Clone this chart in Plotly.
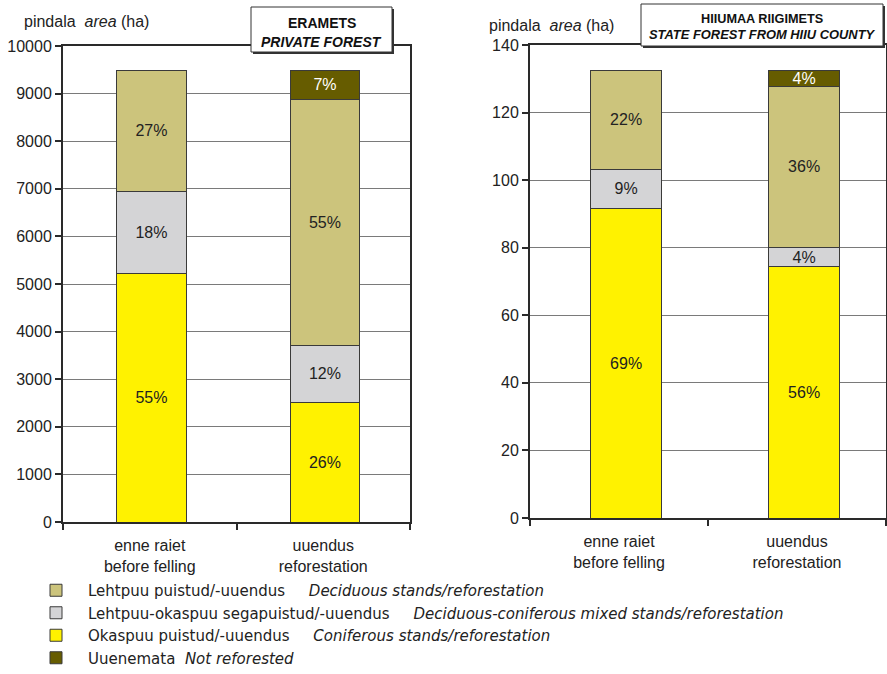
import plotly.graph_objects as go

W, H = 887, 674

categories = ["enne raiet<br>before felling", "uuendus<br>reforestation"]

# Left chart: ERAMETS / private forest (ha)
conif_L = [5230, 2520]
mixed_L = [1710, 1180]
decid_L = [2550, 5180]
notref_L = [None, 610]
conif_L_lbl = ["55%", "26%"]
mixed_L_lbl = ["18%", "12%"]
decid_L_lbl = ["27%", "55%"]
notref_L_lbl = ["", "7%"]

# Right chart: HIIUMAA RIIGIMETS / state forest (ha)
conif_R = [91.7, 74.3]
mixed_R = [11.5, 5.9]
decid_R = [29.3, 47.6]
notref_R = [None, 4.7]
conif_R_lbl = ["69%", "56%"]
mixed_R_lbl = ["9%", "4%"]
decid_R_lbl = ["22%", "36%"]
notref_R_lbl = ["", "4%"]

NB = "\u00a0"
series_names = [
    "Lehtpuu puistud/-uuendus" + NB * 5 + "<i>Deciduous stands/reforestation</i>",
    "Lehtpuu-okaspuu segapuistud/-uuendus" + NB * 5 + "<i>Deciduous-coniferous mixed stands/reforestation</i>",
    "Okaspuu puistud/-uuendus" + NB * 5 + "<i>Coniferous stands/reforestation</i>",
    "Uuenemata" + NB * 2 + "<i>Not reforested</i>",
]

C_DECID = "#CCC47C"
C_MIXED = "#D4D4D6"
C_CONIF = "#FFF200"
C_NOTREF = "#665C00"
TXT = "#222222"
FONT = "Liberation Sans, Arial, sans-serif"

fig = go.Figure()

def add_stack(xa, ya, conif, mixed, decid, notref, lc, lm, ld, ln, show, offset):
    specs = [
        (conif, lc, C_CONIF, series_names[2], 3, TXT),
        (mixed, lm, C_MIXED, series_names[1], 2, TXT),
        (decid, ld, C_DECID, series_names[0], 1, TXT),
        (notref, ln, C_NOTREF, series_names[3], 4, "white"),
    ]
    for vals, lbl, col, name, rank, tcol in specs:
        fig.add_trace(go.Bar(
            x=categories, y=vals, text=lbl, name=name,
            marker=dict(color=col, line=dict(color="#3a3a3a", width=1)),
            textposition="inside", insidetextanchor="middle",
            textfont=dict(color=tcol, size=16, family=FONT),
            width=0.4, offset=offset, xaxis=xa, yaxis=ya, showlegend=show,
            legendrank=rank, hoverinfo="skip",
        ))

add_stack("x", "y", conif_L, mixed_L, decid_L, notref_L,
          conif_L_lbl, mixed_L_lbl, decid_L_lbl, notref_L_lbl, True, -0.19)
add_stack("x2", "y2", conif_R, mixed_R, decid_R, notref_R,
          conif_R_lbl, mixed_R_lbl, decid_R_lbl, notref_R_lbl, False, -0.16)

def px_x(p):
    return p / W

def px_y(p):
    return 1 - p / H

axis_common = dict(showline=True, linecolor="#2a2a2a", linewidth=2, mirror=True,
                   ticks="outside", tickcolor="#2a2a2a", ticklen=6, tickwidth=1.5,
                   automargin=False,
                   tickfont=dict(size=16, color=TXT, family=FONT))

fig.update_layout(
    width=W, height=H,
    margin=dict(l=0, r=0, t=0, b=0),
    paper_bgcolor="white", plot_bgcolor="white",
    barmode="stack",
    uniformtext=dict(minsize=15, mode="show"),
    font=dict(family=FONT, color=TXT, size=16),
    xaxis=dict(domain=[px_x(63), px_x(410)], anchor="y", type="category",
               tickson="boundaries", showgrid=False, ticklabelstandoff=8, **axis_common),
    yaxis=dict(domain=[px_y(522), px_y(46)], anchor="x", range=[0, 10000], dtick=1000,
               tickformat="d",
               showgrid=True, gridcolor="#7a7a7a", gridwidth=1, **axis_common),
    xaxis2=dict(domain=[px_x(530), px_x(886)], anchor="y2", type="category",
                tickson="boundaries", showgrid=False, ticklabelstandoff=8, **axis_common),
    yaxis2=dict(domain=[px_y(518), px_y(45)], anchor="x2", range=[0, 140], dtick=20,
                tickformat="d",
                showgrid=True, gridcolor="#7a7a7a", gridwidth=1, **axis_common),
    legend=dict(x=px_x(24), y=0, xanchor="left", yanchor="bottom",
                traceorder="normal",
                bgcolor="rgba(0,0,0,0)",
                font=dict(size=15, color=TXT, family="DejaVu Sans, Liberation Sans, sans-serif"),
                tracegroupgap=0, itemwidth=54),
)

# Title boxes with shadow
def title_box(x0, y0, x1, y1, lines):
    fig.add_shape(type="rect", xref="paper", yref="paper", layer="above",
                  x0=px_x(x0 + 2), x1=px_x(x1 + 2), y0=px_y(y1 + 2), y1=px_y(y0 + 2),
                  fillcolor="#333333", line=dict(width=0))
    fig.add_shape(type="rect", xref="paper", yref="paper", layer="above",
                  x0=px_x(x0), x1=px_x(x1), y0=px_y(y1), y1=px_y(y0),
                  fillcolor="white", line=dict(color="#333333", width=1))
    for text, yc, size in lines:
        fig.add_annotation(xref="paper", yref="paper", x=px_x((x0 + x1) / 2), y=px_y(yc),
                           text=text, showarrow=False, xanchor="center", yanchor="middle",
                           font=dict(size=size, color="#111111", family=FONT))

title_box(251, 7, 392, 52, [("<b>ERAMETS</b>", 23, 14), ("<b><i>PRIVATE FOREST</i></b>", 42, 14)])
title_box(641, 4, 883, 46, [("<b>HIIUMAA RIIGIMETS</b>", 19, 12.7),
                            ("<b><i>STATE FOREST FROM HIIU COUNTY</i></b>", 35, 12.9)])

for xp, yp in [(22, 21), (487, 25)]:
    fig.add_annotation(xref="paper", yref="paper", x=px_x(xp), y=px_y(yp),
                       text="pindala" + NB * 2 + "<i>area</i>" + NB + "(ha)", showarrow=False,
                       xanchor="left", yanchor="middle",
                       font=dict(size=16, color=TXT, family=FONT))

fig.write_html("out.html", config={"displayModeBar": False},
               post_script="document.body.style.margin='0';document.body.style.overflow='hidden';")
